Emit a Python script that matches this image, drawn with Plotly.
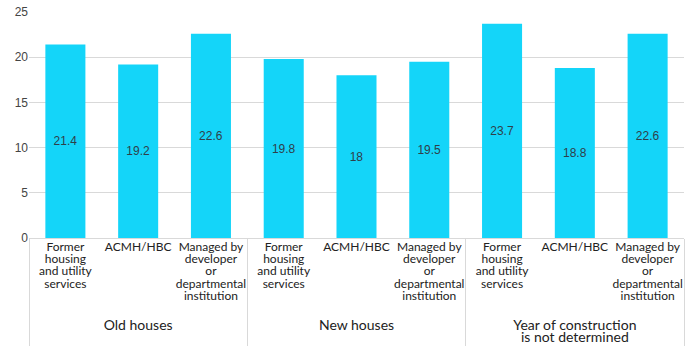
import plotly.graph_objects as go

groups = ["Old houses"] * 3 + ["New houses"] * 3 + ["Year of construction<br>is not determined"] * 3
subcats = [
    "Former<br>housing<br>and utility<br>services",
    "ACMH/HBC",
    "Managed by<br>developer<br>or<br>departmental<br>institution",
] * 3
values = [21.4, 19.2, 22.6, 19.8, 18, 19.5, 23.7, 18.8, 22.6]
text_labels = ["21.4", "19.2", "22.6", "19.8", "18", "19.5", "23.7", "18.8", "22.6"]


def styled(label, size, lead_blank=False):
    parts = [f'<span style="font-size:{size}px">{part}</span>' for part in label.split("<br>")]
    if lead_blank:
        parts = ['<span style="font-size:6px"> </span>'] + parts
    return "<br>".join(parts)


x_groups = [styled(g, 14, lead_blank=True) for g in groups]
x_subcats = [styled(s, 12) for s in subcats]

fig = go.Figure(
    go.Bar(
        x=[x_groups, x_subcats],
        y=values,
        text=text_labels,
        textposition="inside",
        insidetextanchor="middle",
        textangle=0,
        textfont=dict(family="Liberation Sans, Arial", size=12, color="#2f3f4a"),
        marker=dict(color="#14d5f9", line=dict(width=0)),
        width=0.55,
    )
)

fig.update_layout(
    width=696,
    height=346,
    margin=dict(l=29, r=12, t=12, b=108, autoexpand=False),
    plot_bgcolor="white",
    paper_bgcolor="white",
    showlegend=False,
    font=dict(family="Lato, Noto Sans", size=12, color="#333333"),
)
fig.update_yaxes(
    range=[0, 25],
    dtick=5,
    showgrid=True,
    gridcolor="#d9d9d9",
    gridwidth=1,
    zeroline=False,
    showline=False,
    tickfont=dict(family="Liberation Sans, Arial", size=12, color="#444444"),
    ticks="",
    automargin=False,
)
fig.update_xaxes(
    showline=True,
    linecolor="#d9d9d9",
    linewidth=1,
    showdividers=True,
    dividercolor="#d9d9d9",
    dividerwidth=1,
    tickangle=0,
    tickfont=dict(family="Lato, Noto Sans", size=9.6, color="#222222"),
    ticks="",
    automargin=False,
)

fig.write_html("out.html")
